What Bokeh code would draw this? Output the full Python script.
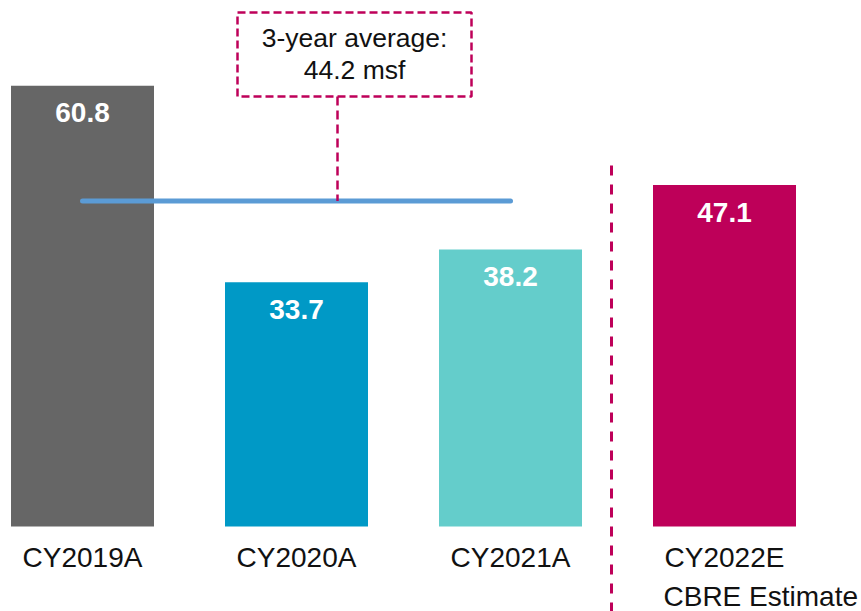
from bokeh.plotting import figure
from bokeh.models import Range1d
from bokeh.core.properties import value
from bokeh.embed import file_html
from bokeh.resources import INLINE

# ---- data ----
categories = ["CY2019A", "CY2020A", "CY2021A", "CY2022E"]
volumes = [60.8, 33.7, 38.2, 47.1]
bar_colors = ["#666666", "#0099C6", "#64CDCB", "#BE0059"]
estimate_note = "CBRE Estimate"
avg_label_value = 44.2
avg_line_level = 44.9   # level at which the average line is drawn in the picture
avg_title = "3-year average:"

# ---- layout helpers (picture pixels -> data units) ----
W, H = 861, 611
OX, OY = 0, 0
X0, DX = 82.0, 214.0      # picture x of first bar centre, spacing per category
Y0, KY = 526.0, 7.25      # picture y of zero line, pixels per unit
TS = 11                   # text baseline correction in pixels

def xd(sx):
    return (sx - X0) / DX

def yd(sy):
    return (Y0 - sy) / KY

def yt(sy):
    return yd(sy - TS)

FONT = value("Liberation Sans")
CRIMSON = "#BE0059"

p = figure(width=W, height=H, output_backend="svg", toolbar_location=None,
           x_range=Range1d(xd(OX), xd(OX + W)), y_range=Range1d(yd(OY + H), yd(OY)),
           x_axis_location=None, y_axis_location=None, min_border=0)
p.grid.visible = False
p.outline_line_color = None
p.background_fill_color = "white"
p.border_fill_color = "white"

idx = list(range(len(categories)))

p.vbar(x=idx, top=volumes, bottom=0, width=143 / DX, color=bar_colors, line_color=None)

# value labels inside bars
p.text(x=idx, y=[v - (38 - TS) / KY for v in volumes], text=[f"{v:.1f}" for v in volumes],
       text_align="center", text_baseline="alphabetic", text_color="white",
       text_font=FONT, text_font_size=value("28px"), text_font_style="bold")

# average line across the three actual years
p.line(x=[idx[0], idx[2]], y=[avg_line_level, avg_line_level], line_width=5,
       line_color="#5B9BD5", line_cap="round")

# connector from box to average line
p.segment(x0=[xd(337)], y0=[yd(96)], x1=[xd(337)], y1=[avg_line_level],
          line_color=CRIMSON, line_width=2.5, line_dash="9 5")

# dashed annotation box
p.quad(left=[xd(237)], right=[xd(471)], top=[yd(12)], bottom=[yd(96)],
       fill_alpha=0, line_color=CRIMSON, line_width=2.5, line_dash="8 4")

p.text(x=[xd(354), xd(354)], y=[yt(48), yt(80)],
       text=[avg_title, f"{avg_label_value} msf"],
       text_align="center", text_baseline="alphabetic", text_color="#111111",
       text_font=FONT, text_font_size=value("26.5px"))

# vertical divider between actuals and estimate
p.segment(x0=[xd(611)], y0=[yd(165)], x1=[xd(611)], y1=[yd(OY + H + 10)],
          line_color=CRIMSON, line_width=3, line_dash="10 9")

# category labels
p.text(x=idx, y=[yt(568)] * len(idx), text=categories,
       text_align="center", text_baseline="alphabetic", text_color="#111111",
       text_font=FONT, text_font_size=value("28px"))

p.text(x=[xd(663)], y=[yt(607)], text=[estimate_note],
       text_align="left", text_baseline="alphabetic", text_color="#111111",
       text_font=FONT, text_font_size=value("28px"))

open("out.html", "w").write(file_html(p, INLINE))
